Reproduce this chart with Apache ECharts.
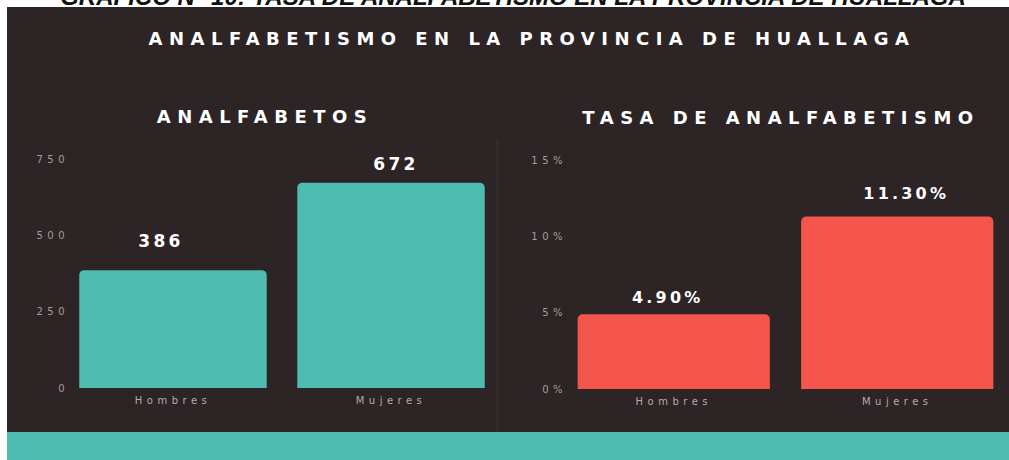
<!DOCTYPE html>
<html>
<head>
<meta charset="utf-8">
<title>Analfabetismo Huallaga</title>
<script src="https://cdn.jsdelivr.net/npm/echarts@6/dist/echarts.min.js"></script>
<style>
  html, body { margin: 0; padding: 0; background: #fff; }
  #main { width: 1009px; height: 460px; }
</style>
</head>
<body>
<div id="main"></div>
<script>
// datos
var categorias = ['Hombres', 'Mujeres'];
var analfabetos = [386, 672];
var tasaAnalf = [4.9, 11.3];          // en %
var ticksAnalf = [0, 250, 500, 750];
var ticksTasa = [0, 5, 10, 15];       // en %

var fondo = '#2c2425';
var verde = '#4fbcb1';
var rojo = '#f4564b';

// desplazamiento de etiquetas [dx, distancia]
var etqAnalf = [[-12, 21], [5, 10]];
var etqTasa = [[-6, 9], [9, 15]];

var chart = echarts.init(document.getElementById('main'), null, { renderer: 'svg' });

function itemsCon(valores, desp) {
    return valores.map(function (v, i) {
        return { value: v, label: { distance: desp[i][1], offset: [desp[i][0], 0] } };
    });
}

var titulo = { fill: '#ffffff', fontFamily: 'DejaVu Sans', fontWeight: 'bold', fontSize: 18, textAlign: 'center', textVerticalAlign: 'middle' };

var option = {
    backgroundColor: fondo,
    animation: false,
    textStyle: { fontFamily: 'DejaVu Sans' },
    graphic: [
        { type: 'rect', shape: { x: 0, y: 0, width: 1009, height: 7 }, style: { fill: '#ffffff' } },
        { type: 'rect', shape: { x: 0, y: 0, width: 7, height: 460 }, style: { fill: '#ffffff' } },
        { type: 'rect', shape: { x: 7, y: 432, width: 1002, height: 28 }, style: { fill: verde } },
        { type: 'line', shape: { x1: 497, y1: 140, x2: 497, y2: 432 }, style: { stroke: 'rgba(255,255,255,0.07)', lineWidth: 1 } },
        { type: 'text', x: 513, y: -4, z: 10, style: { text: 'GRÁFICO N° 10: TASA DE ANALFABETISMO EN LA PROVINCIA DE HUALLAGA', fill: '#111111', fontFamily: 'Liberation Sans', fontStyle: 'italic', fontWeight: 'bold', fontSize: 24, textAlign: 'center', textVerticalAlign: 'middle' } },
        { type: 'text', x: 532, y: 38, style: Object.assign({ text: 'ANALFABETISMO EN LA PROVINCIA DE HUALLAGA' }, titulo) },
        { type: 'text', x: 265, y: 116, style: Object.assign({ text: 'ANALFABETOS' }, titulo) },
        { type: 'text', x: 781, y: 117, style: Object.assign({ text: 'TASA DE ANALFABETISMO' }, titulo) }
    ],
    grid: [
        { left: 64, width: 436, top: 159, height: 229 },
        { left: 562, width: 447, top: 160, height: 229 }
    ],
    xAxis: [0, 1].map(function (g) {
        return {
            type: 'category', gridIndex: g, data: categorias,
            axisLine: { show: false }, axisTick: { show: false },
            axisLabel: { color: '#b3aeac', fontSize: 10, margin: 7, interval: 0 }
        };
    }),
    yAxis: [
        {
            type: 'value', gridIndex: 0,
            min: ticksAnalf[0], max: ticksAnalf[ticksAnalf.length - 1], interval: ticksAnalf[1] - ticksAnalf[0],
            splitLine: { show: false },
            axisLabel: { color: '#a39e9c', fontSize: 10, margin: -5 }
        },
        {
            type: 'value', gridIndex: 1,
            min: ticksTasa[0], max: ticksTasa[ticksTasa.length - 1], interval: ticksTasa[1] - ticksTasa[0],
            splitLine: { show: false },
            axisLabel: { color: '#a39e9c', fontSize: 10, margin: -5, formatter: '{value}%' }
        }
    ],
    series: [
        {
            type: 'bar', xAxisIndex: 0, yAxisIndex: 0,
            data: itemsCon(analfabetos, etqAnalf),
            barCategoryGap: '14%',
            itemStyle: { color: verde, borderRadius: [5, 5, 0, 0] },
            label: { show: true, position: 'top', color: '#ffffff', fontSize: 17, fontWeight: 'bold' }
        },
        {
            type: 'bar', xAxisIndex: 1, yAxisIndex: 1,
            data: itemsCon(tasaAnalf, etqTasa),
            barCategoryGap: '14%',
            itemStyle: { color: rojo, borderRadius: [5, 5, 0, 0] },
            label: {
                show: true, position: 'top', color: '#ffffff', fontSize: 16, fontWeight: 'bold',
                formatter: function (p) { return p.value.toFixed(2) + '%'; }
            }
        }
    ]
};

chart.setOption(option);

// letras espaciadas como en el original
function espaciar() {
    document.querySelectorAll('#main text').forEach(function (t) {
        var s = t.textContent;
        if (s.indexOf('GRÁFICO') === 0) return;
        var tam = parseFloat(getComputedStyle(t).fontSize);
        var esp = '0.45em';
        if (tam > 14) esp = /^[\d.%]+$/.test(s) ? '0.2em' : '0.36em';
        t.style.letterSpacing = esp;
    });
}
chart.getZr().flush();
espaciar();
chart.on('finished', espaciar);
</script>
</body>
</html>
